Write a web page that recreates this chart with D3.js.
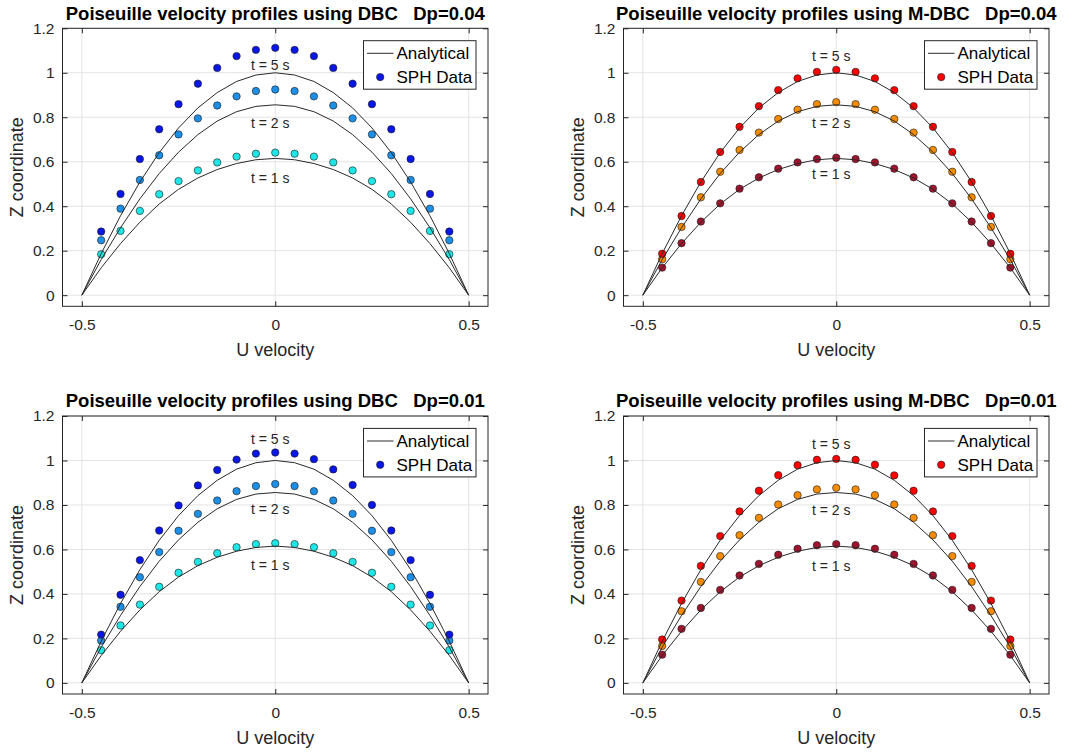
<!DOCTYPE html>
<html>
<head>
<meta charset="utf-8">
<script src="https://cdn.jsdelivr.net/npm/d3@7"></script>
<style>
  body { margin: 0; background: #fff; }
  text { font-family: "Liberation Sans", Arial, Helvetica, sans-serif; }
</style>
</head>
<body>
<div id="chart"></div>
<script>
// ---- data ----
var xData = [-0.45, -0.4, -0.35, -0.3, -0.25, -0.2, -0.15, -0.1, -0.05, 0,
             0.05, 0.1, 0.15, 0.2, 0.25, 0.3, 0.35, 0.4, 0.45];
var xAnalytical = [-0.5, -0.45, -0.4, -0.35, -0.3, -0.25, -0.2, -0.15, -0.1, -0.05, 0,
                   0.05, 0.1, 0.15, 0.2, 0.25, 0.3, 0.35, 0.4, 0.45, 0.5];

// analytical profiles (t = 1, 2, 5 s)
var anaT1 = [0, 0.123, 0.232, 0.328, 0.410, 0.476, 0.527, 0.565, 0.592, 0.609, 0.615,
             0.609, 0.592, 0.565, 0.527, 0.476, 0.410, 0.328, 0.232, 0.123, 0];
var anaT2 = [0, 0.160, 0.303, 0.433, 0.547, 0.643, 0.722, 0.783, 0.825, 0.849, 0.856,
             0.849, 0.825, 0.783, 0.722, 0.643, 0.547, 0.433, 0.303, 0.160, 0];
var anaT5 = [0, 0.187, 0.357, 0.509, 0.641, 0.752, 0.842, 0.911, 0.961, 0.990, 1.0,
             0.990, 0.961, 0.911, 0.842, 0.752, 0.641, 0.509, 0.357, 0.187, 0];

// SPH, DBC, Dp = 0.04
var dbc04T1 = [0.184, 0.289, 0.379, 0.454, 0.513, 0.561, 0.597, 0.623, 0.636, 0.641,
               0.636, 0.623, 0.597, 0.561, 0.513, 0.454, 0.379, 0.289, 0.184];
var dbc04T2 = [0.247, 0.389, 0.518, 0.629, 0.723, 0.795, 0.853, 0.894, 0.918, 0.925,
               0.918, 0.894, 0.853, 0.795, 0.723, 0.629, 0.518, 0.389, 0.247];
var dbc04T5 = [0.286, 0.455, 0.612, 0.746, 0.859, 0.951, 1.022, 1.075, 1.103, 1.112,
               1.103, 1.075, 1.022, 0.951, 0.859, 0.746, 0.612, 0.455, 0.286];

// SPH, M-DBC, Dp = 0.04
var mdbc04T1 = [0.124, 0.234, 0.331, 0.413, 0.479, 0.530, 0.569, 0.597, 0.612, 0.618,
                0.612, 0.597, 0.569, 0.530, 0.479, 0.413, 0.331, 0.234, 0.124];
var mdbc04T2 = [0.162, 0.307, 0.440, 0.555, 0.653, 0.731, 0.792, 0.834, 0.859, 0.868,
                0.859, 0.834, 0.792, 0.731, 0.653, 0.555, 0.440, 0.307, 0.162];
var mdbc04T5 = [0.186, 0.356, 0.509, 0.644, 0.757, 0.850, 0.922, 0.975, 1.004, 1.013,
                1.004, 0.975, 0.922, 0.850, 0.757, 0.644, 0.509, 0.356, 0.186];

// SPH, DBC, Dp = 0.01
var dbc01T1 = [0.147, 0.258, 0.352, 0.432, 0.495, 0.544, 0.583, 0.610, 0.624, 0.628,
               0.624, 0.610, 0.583, 0.544, 0.495, 0.432, 0.352, 0.258, 0.147];
var dbc01T2 = [0.190, 0.342, 0.475, 0.588, 0.684, 0.760, 0.820, 0.862, 0.885, 0.894,
               0.885, 0.862, 0.820, 0.760, 0.684, 0.588, 0.475, 0.342, 0.190];
var dbc01T5 = [0.217, 0.396, 0.552, 0.685, 0.798, 0.888, 0.957, 1.004, 1.031, 1.036,
               1.031, 1.006, 0.960, 0.890, 0.800, 0.685, 0.552, 0.396, 0.217];

// SPH, M-DBC, Dp = 0.01
var mdbc01T1 = [0.127, 0.243, 0.337, 0.418, 0.483, 0.535, 0.576, 0.603, 0.619, 0.624,
                0.619, 0.603, 0.576, 0.535, 0.483, 0.418, 0.337, 0.243, 0.127];
var mdbc01T2 = [0.166, 0.322, 0.454, 0.570, 0.664, 0.742, 0.802, 0.844, 0.870, 0.877,
                0.870, 0.844, 0.802, 0.742, 0.664, 0.570, 0.454, 0.322, 0.166];
var mdbc01T5 = [0.195, 0.370, 0.526, 0.660, 0.771, 0.864, 0.934, 0.979, 1.003, 1.007,
                1.003, 0.981, 0.933, 0.864, 0.771, 0.660, 0.526, 0.370, 0.195];

var timeLabels = ["t = 1 s", "t = 2 s", "t = 5 s"];
// label heights (data units) for t = 1, 2, 5 s in each panel
var labelY_dbc04 = [0.525, 0.775, 1.034];
var labelY_mdbc04 = [0.543, 0.772, 1.076];
var labelY_dbc01 = [0.529, 0.781, 1.095];
var labelY_mdbc01 = [0.526, 0.777, 1.074];

var titles = [
  "Poiseuille velocity profiles using DBC   Dp=0.04",
  "Poiseuille velocity profiles using M-DBC   Dp=0.04",
  "Poiseuille velocity profiles using DBC   Dp=0.01",
  "Poiseuille velocity profiles using M-DBC   Dp=0.01"
];
var xTicks = [-0.5, 0, 0.5];
var yTicks = [0, 0.2, 0.4, 0.6, 0.8, 1, 1.2];
var legendLabels = ["Analytical", "SPH Data"];

// ---- chart set up ----
var svgWidth = 1072;
var svgHeight = 753;
var blues = ["#1ee6e6", "#1e8fe6", "#0a16e6"];
var reds = ["#a0142d", "#f58c00", "#ff0000"];

var svg = d3.select("#chart")
  .append("svg")
  .attr("width", svgWidth)
  .attr("height", svgHeight);

svg.append("rect").attr("width", svgWidth).attr("height", svgHeight).attr("fill", "#fff");

var panels = [
  {left: 62.5, top: 28.3, title: titles[0], series: [dbc04T1, dbc04T2, dbc04T5], colors: blues, labelY: labelY_dbc04},
  {left: 623.5, top: 28.3, title: titles[1], series: [mdbc04T1, mdbc04T2, mdbc04T5], colors: reds, labelY: labelY_mdbc04},
  {left: 62.5, top: 416, title: titles[2], series: [dbc01T1, dbc01T2, dbc01T5], colors: blues, labelY: labelY_dbc01},
  {left: 623.5, top: 416, title: titles[3], series: [mdbc01T1, mdbc01T2, mdbc01T5], colors: reds, labelY: labelY_mdbc01}
];

var width = 425.5;
var height = 278;

panels.forEach(drawPanel);

function drawPanel(p) {
  var g = svg.append("g").attr("transform", `translate(${p.left}, ${p.top})`);

  var x = d3.scaleLinear().domain([-0.55, 0.55]).range([0, width]);
  var y = d3.scaleLinear().domain([-0.05, 1.2]).range([height, 0]);

  // grid
  g.append("g").selectAll("line.gx")
    .data(xTicks).enter().append("line")
    .attr("x1", d => x(d)).attr("x2", d => x(d))
    .attr("y1", 0).attr("y2", height)
    .attr("stroke", "#e3e3e3").attr("stroke-width", 1);
  g.append("g").selectAll("line.gy")
    .data(yTicks).enter().append("line")
    .attr("x1", 0).attr("x2", width)
    .attr("y1", d => y(d)).attr("y2", d => y(d))
    .attr("stroke", "#e3e3e3").attr("stroke-width", 1);

  // axes (ticks point inward, like matlab)
  var fmt = d => String(d);
  var xAxis = g.append("g").attr("transform", `translate(0, ${height})`)
    .call(d3.axisBottom(x).tickValues(xTicks).tickFormat(fmt).tickSizeInner(-5).tickSizeOuter(0).tickPadding(13));
  var yAxis = g.append("g")
    .call(d3.axisLeft(y).tickValues(yTicks).tickFormat(fmt).tickSizeInner(-5).tickSizeOuter(0).tickPadding(8));
  var xTop = g.append("g")
    .call(d3.axisTop(x).tickValues(xTicks).tickFormat("").tickSizeInner(-5).tickSizeOuter(0));
  var yRight = g.append("g").attr("transform", `translate(${width}, 0)`)
    .call(d3.axisRight(y).tickValues(yTicks).tickFormat("").tickSizeInner(-5).tickSizeOuter(0));

  [xAxis, yAxis, xTop, yRight].forEach(function(a) {
    a.select(".domain").remove();
    a.selectAll("line").attr("stroke", "#262626");
    a.selectAll("text")
      .attr("fill", "#262626")
      .attr("font-size", "15.5px")
      .attr("font-family", "'Liberation Sans', Arial, sans-serif");
  });

  g.append("rect")
    .attr("width", width).attr("height", height)
    .attr("fill", "none").attr("stroke", "#262626").attr("stroke-width", 1);

  // SPH data
  p.series.forEach(function(vals, i) {
    g.append("g").selectAll("circle")
      .data(vals).enter().append("circle")
      .attr("cx", (d, j) => x(xData[j]))
      .attr("cy", d => y(d))
      .attr("r", 3.7)
      .attr("fill", p.colors[i])
      .attr("stroke", "#1a1a1a")
      .attr("stroke-width", 0.6);
  });

  // analytical curves
  var line = d3.line().x((d, j) => x(xAnalytical[j])).y(d => y(d));
  [anaT1, anaT2, anaT5].forEach(function(vals) {
    g.append("path")
      .datum(vals)
      .attr("d", line)
      .attr("fill", "none")
      .attr("stroke", "#2a2a2a")
      .attr("stroke-width", 1);
  });

  // time labels
  g.selectAll(".tlabel")
    .data(timeLabels).enter().append("text")
    .attr("class", "tlabel")
    .attr("x", x(-0.013))
    .attr("y", (d, i) => y(p.labelY[i]))
    .attr("dy", "0.35em")
    .attr("text-anchor", "middle")
    .attr("font-size", "14px")
    .attr("fill", "#262626")
    .text(d => d);

  // title
  g.append("text")
    .attr("x", width / 2)
    .attr("y", -8.7)
    .attr("text-anchor", "middle")
    .attr("font-size", "18.5px")
    .attr("font-weight", "bold")
    .attr("fill", "#000")
    .style("white-space", "pre")
    .text(p.title);

  // axis labels
  g.append("text")
    .attr("x", width / 2)
    .attr("y", height + 50)
    .attr("text-anchor", "middle")
    .attr("font-size", "18px")
    .attr("fill", "#262626")
    .text("U velocity");

  g.append("text")
    .attr("transform", "rotate(-90)")
    .attr("x", -height / 2)
    .attr("y", -40)
    .attr("text-anchor", "middle")
    .attr("font-size", "18px")
    .attr("fill", "#262626")
    .text("Z coordinate");

  // legend
  var lw = 112.5, lh = 48.5;
  var lg = g.append("g").attr("transform", `translate(${width - 12 - lw}, 12.4)`);
  lg.append("rect").attr("width", lw).attr("height", lh)
    .attr("fill", "#fff").attr("stroke", "#262626").attr("stroke-width", 1);
  lg.append("line").attr("x1", 3.5).attr("x2", 30).attr("y1", 12.6).attr("y2", 12.6)
    .attr("stroke", "#2a2a2a").attr("stroke-width", 1);
  lg.append("circle").attr("cx", 16.7).attr("cy", 36.4).attr("r", 3.7)
    .attr("fill", p.colors[2]).attr("stroke", "#1a1a1a").attr("stroke-width", 0.6);
  lg.selectAll(".ltext")
    .data(legendLabels).enter().append("text")
    .attr("x", 33)
    .attr("y", (d, i) => 12.6 + i * 23.8)
    .attr("dy", "0.35em")
    .attr("font-size", "17px")
    .attr("fill", "#000")
    .text(d => d);
}
</script>
</body>
</html>
